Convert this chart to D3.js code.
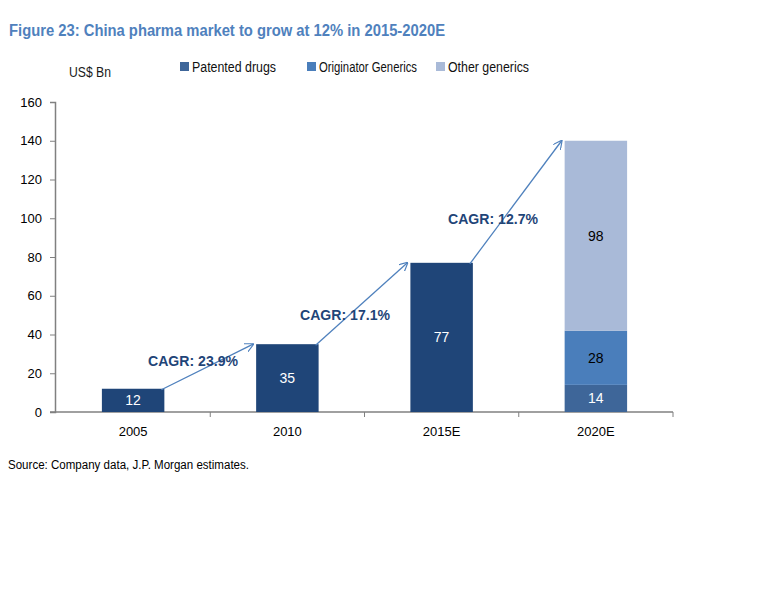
<!DOCTYPE html>
<html>
<head>
<meta charset="utf-8">
<script src="https://cdn.jsdelivr.net/npm/d3@7"></script>
<style>
  body { margin: 0; background: #fff; font-family: "Liberation Sans", Arial, sans-serif; }
  svg text { font-family: "Liberation Sans", Arial, sans-serif; }
</style>
</head>
<body>
<div id="chart"></div>
<script>
// Data
const categories = ["2005", "2010", "2015E", "2020E"];
const seriesNames = ["Patented drugs", "Originator Generics", "Other generics"];
const patented = [12, 35, 77, 14];
const originator = [0, 0, 0, 28];
const otherGenerics = [0, 0, 0, 98];
const cagrLabels = ["CAGR: 23.9%", "CAGR: 17.1%", "CAGR: 12.7%"];
const yTicks = [0, 20, 40, 60, 80, 100, 120, 140, 160];

const width = 768, height = 614;
const margin = { left: 56, right: 95, top: 102, bottom: 202 };

// colours for the single-series years vs the stacked year
const colPatentedEarly = "#1f4578";
const colors = ["#3e6699", "#4a7ebb", "#a9bad8"];
const labelColors = ["#fff", "#000", "#000"];

const svg = d3.select("#chart").append("svg")
    .attr("width", width)
    .attr("height", height);

// the reference uses a narrow face; squeeze text to the measured widths
function narrow(sel, len) {
    return sel.attr("textLength", len).attr("lengthAdjust", "spacingAndGlyphs");
}

// title
narrow(svg.append("text")
    .attr("x", 9).attr("y", 36)
    .attr("fill", "#4f81bd")
    .attr("font-size", "16px")
    .attr("font-weight", "bold")
    .text("Figure 23: China pharma market to grow at 12% in 2015-2020E"), 436);

// unit label
narrow(svg.append("text")
    .attr("x", 69).attr("y", 77)
    .attr("font-size", "14px")
    .attr("fill", "#1a1a1a")
    .text("US$ Bn"), 42);

// legend
const legendX = [180, 307, 436];
const legendW = [84, 98, 81];
seriesNames.forEach((name, i) => {
    const g = svg.append("g").attr("transform", `translate(${legendX[i]}, 62)`);
    g.append("rect").attr("width", 9).attr("height", 9).attr("fill", colors[i]);
    narrow(g.append("text")
        .attr("x", 12).attr("y", 10)
        .attr("font-size", "14px")
        .attr("fill", "#111")
        .text(name), legendW[i]);
});

const x = d3.scaleBand()
    .domain(categories)
    .range([margin.left, width - margin.right])
    .padding(0);

const y = d3.scaleLinear()
    .domain([0, 160])
    .range([height - margin.bottom, margin.top]);

const barW = x.bandwidth() * 0.405;

// axes
const yAxis = svg.append("g")
    .attr("transform", `translate(${margin.left - 1},0)`)
    .call(d3.axisLeft(y).tickValues(yTicks).tickSize(5).tickPadding(8));
yAxis.select(".domain").attr("stroke", "#808080").attr("stroke-width", 1.5);
yAxis.selectAll(".tick line").attr("stroke", "#808080");
yAxis.selectAll(".tick text").attr("font-size", "13px").attr("fill", "#000");

const xAxisG = svg.append("g")
    .attr("transform", `translate(0,${y(0)})`);
xAxisG.append("line")
    .attr("x1", margin.left - 6).attr("x2", width - margin.right)
    .attr("stroke", "#808080").attr("stroke-width", 1.5);
// boundary ticks
d3.range(1, categories.length + 1).forEach(i => {
    const bx = margin.left + i * x.step();
    xAxisG.append("line")
        .attr("x1", bx).attr("x2", bx)
        .attr("y1", 0).attr("y2", 5)
        .attr("stroke", "#808080");
});
xAxisG.selectAll("text.cat")
    .data(categories)
    .enter().append("text")
    .attr("class", "cat")
    .attr("x", d => x(d) + x.bandwidth() / 2)
    .attr("y", 24)
    .attr("text-anchor", "middle")
    .attr("font-size", "13px")
    .attr("fill", "#000")
    .text(d => d);

// stacked bars
const table = categories.map((c, i) => ({
    cat: c,
    "Patented drugs": patented[i],
    "Originator Generics": originator[i],
    "Other generics": otherGenerics[i]
}));
const stack = d3.stack().keys(seriesNames)(table);

stack.forEach((layer, li) => {
    layer.forEach((d, ci) => {
        const v = d[1] - d[0];
        if (v <= 0) return;
        const stacked = ci === categories.length - 1;
        const bx = x(d.data.cat) + (x.bandwidth() - barW) / 2;
        svg.append("rect")
            .attr("x", bx)
            .attr("y", y(d[1]))
            .attr("width", barW)
            .attr("height", y(d[0]) - y(d[1]))
            .attr("fill", stacked ? colors[li] : colPatentedEarly);
        svg.append("text")
            .attr("x", bx + barW / 2)
            .attr("y", (y(d[0]) + y(d[1])) / 2 + 5)
            .attr("text-anchor", "middle")
            .attr("font-size", "14px")
            .attr("fill", labelColors[li])
            .text(v);
    });
});

// CAGR arrows
const totals = categories.map((c, i) => patented[i] + originator[i] + otherGenerics[i]);
svg.append("defs").append("marker")
    .attr("id", "arrow")
    .attr("viewBox", "0 0 10 10")
    .attr("refX", 9).attr("refY", 5)
    .attr("markerWidth", 9).attr("markerHeight", 9)
    .attr("markerUnits", "userSpaceOnUse")
    .attr("orient", "auto")
    .append("path")
    .attr("d", "M0,0 L10,5 L0,10")
    .attr("fill", "none")
    .attr("stroke", "#4f81bd")
    .attr("stroke-width", 1.3);

const cagrPos = [[148, 366], [300, 320], [448, 224]];
for (let i = 0; i < categories.length - 1; i++) {
    const x1 = x(categories[i]) + (x.bandwidth() + barW) / 2 - 3;
    const y1 = y(totals[i]) + 1;
    const x2 = x(categories[i + 1]) + (x.bandwidth() - barW) / 2 - 3;
    const y2 = y(totals[i + 1]);
    svg.append("line")
        .attr("x1", x1).attr("y1", y1)
        .attr("x2", x2).attr("y2", y2)
        .attr("stroke", "#4f81bd")
        .attr("stroke-width", 1.3)
        .attr("marker-end", "url(#arrow)");
    narrow(svg.append("text")
        .attr("x", cagrPos[i][0]).attr("y", cagrPos[i][1])
        .attr("font-size", "15px")
        .attr("font-weight", "bold")
        .attr("fill", "#1f4578")
        .text(cagrLabels[i]), 90);
}

// source
narrow(svg.append("text")
    .attr("x", 8).attr("y", 469)
    .attr("font-size", "12px")
    .attr("fill", "#000")
    .text("Source: Company data, J.P. Morgan estimates."), 241);
</script>
</body>
</html>
